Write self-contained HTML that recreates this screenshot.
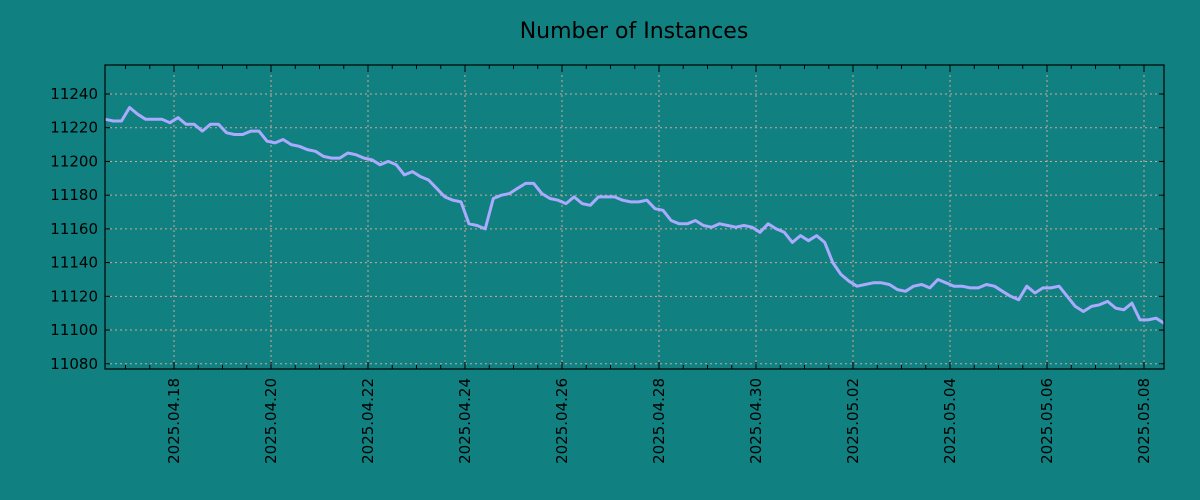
<!DOCTYPE html>
<html><head><meta charset="utf-8"><style>
html,body{margin:0;padding:0;background:#108080;}
svg{display:block;font-family:"DejaVu Sans","Liberation Sans",sans-serif;}
</style></head><body>
<svg id="chart" width="1200" height="500" xmlns="http://www.w3.org/2000/svg">
<rect width="1200" height="500" fill="#108080"/>
<text x="634" y="38" font-size="22" text-anchor="middle" fill="#000">Number of Instances</text>
<g id="grid"></g>
<g id="series"></g>
<g id="axes"></g>
</svg>
<script>
// hours offset from 2025.04.18 00:00 for first sample; samples every 4h
const startHour = -34;
const stepHours = 4;
const values = [11225,11224,11224,11232,11228,11225,11225,11225,11223,11226,11222,11222,11218,11222,11222,11217,11216,11216,11218,11218,
11212,11211,11213,11210,11209,11207,11206,11203,11202,11202,11205,11204,11202,11201,11198,11200,11198,11192,11194,11191,
11189,11184,11179,11177,11176,11163,11162,11160,11178,11180,11181,11184,11187,11187,11181,11178,11177,11175,11179,11175,
11174,11179,11179,11179,11177,11176,11176,11177,11172,11171,11165,11163,11163,11165,11162,11161,11163,11162,11161,11162,
11161,11158,11163,11160,11158,11152,11156,11153,11156,11152,11140,11133,11129,11126,11127,11128,11128,11127,11124,11123,
11126,11127,11125,11130,11128,11126,11126,11125,11125,11127,11126,11123,11120,11118,11126,11122,11125,11125,11126,11120,
11114,11111,11114,11115,11117,11113,11112,11116,11106,11106,11107,11104,11102,11102];
const yTicks = [11080,11100,11120,11140,11160,11180,11200,11220,11240];
const xTickLabels = ["2025.04.18","2025.04.20","2025.04.22","2025.04.24","2025.04.26","2025.04.28","2025.04.30","2025.05.02","2025.05.04","2025.05.06","2025.05.08"];

const L=105,R=1164,T=65,B=369;
const xMin=-34.15,xMax=489.9,yMin=11076.9,yMax=11257.2;
const NS="http://www.w3.org/2000/svg";
function xs(h){return L+(h-xMin)/(xMax-xMin)*(R-L);}
function ys(v){return B-(v-yMin)/(yMax-yMin)*(B-T);}
function mk(tag,attrs,parent){const e=document.createElementNS(NS,tag);for(const k in attrs)e.setAttribute(k,attrs[k]);parent.appendChild(e);return e;}
const grid=document.getElementById('grid'),ser=document.getElementById('series'),axes=document.getElementById('axes');

yTicks.forEach(v=>{
  const y=ys(v);
  const g=mk('line',{x1:L,x2:R,y1:y,y2:y,stroke:'#d0a898','stroke-width':1,'stroke-dasharray':'2,3'},grid);
  
  
  const t=mk('line',{x1:L,x2:L+5,y1:y,y2:y,stroke:'#000'},axes);
  
  
  const t2=mk('line',{x1:R-5,x2:R,y1:y,y2:y,stroke:'#000'},axes);
  
  
  const lb=mk('text',{x:L-7,y:y+5,'font-size':15,'text-anchor':'end',fill:'#000'},axes);
  lb.textContent=v;
  
  
});
xTickLabels.forEach((s,i)=>{
  const x=xs(i*48);
  const g=mk('line',{x1:x,x2:x,y1:T,y2:B,stroke:'#d0a898','stroke-width':1,'stroke-dasharray':'2,3'},grid);
  
  
  const lb=mk('text',{x:0,y:0,'font-size':15,'text-anchor':'end',fill:'#000',transform:`translate(${x+5},${B+9}) rotate(-90)`},axes);
  lb.textContent=s;
  
  
});
for(let h=-24;h<=xMax;h+=12){
  const x=xs(h);if(x<L||x>R)continue;
  const major=(h%48===0);
  const len=major?7:4;
  const a=mk('line',{x1:x,x2:x,y1:B-len,y2:B,stroke:'#000'},axes);
  
  
  const b=mk('line',{x1:x,x2:x,y1:T,y2:T+len,stroke:'#000'},axes);
  
  
}
const pts=values.map((v,i)=>xs(startHour+i*stepHours).toFixed(1)+','+ys(v).toFixed(1)).join(' ');
const cp=mk('clipPath',{id:'clip'},document.getElementById('chart'));
mk('rect',{x:L,y:T,width:R-L,height:B-T},cp);
const pl=mk('polyline',{points:pts,fill:'none',stroke:'#aaaaff','stroke-width':3,'stroke-linejoin':'round','clip-path':'url(#clip)'},ser);


const fr=mk('rect',{x:L,y:T,width:R-L,height:B-T,fill:'none',stroke:'#000','stroke-width':1.2},axes);


</script>
</body></html>
